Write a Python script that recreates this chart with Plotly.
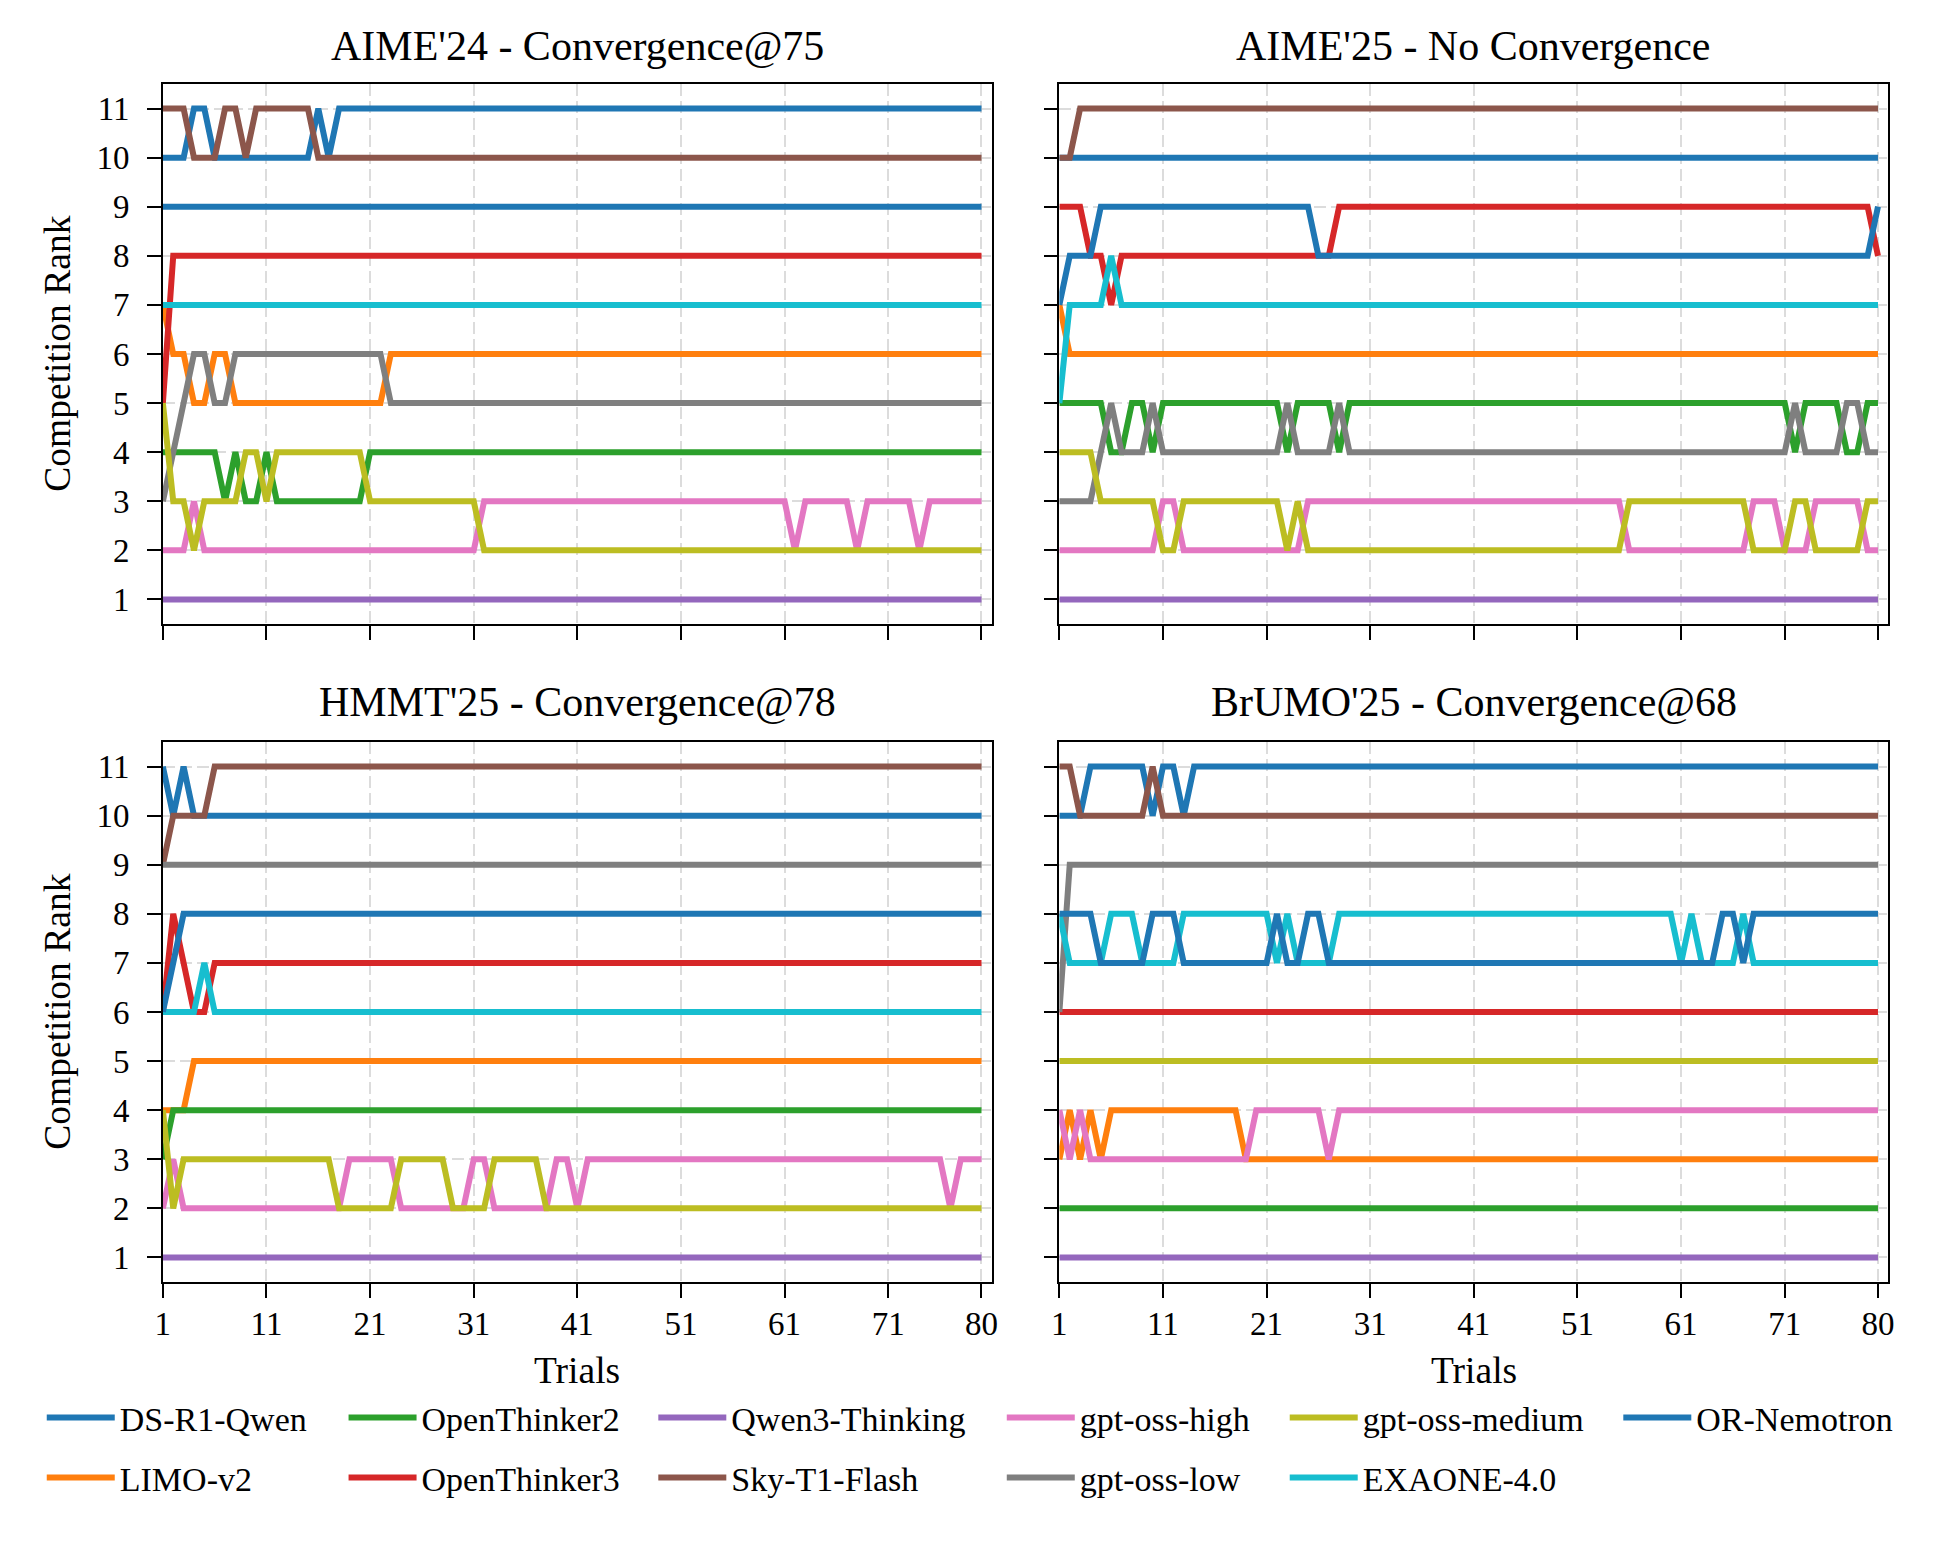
import plotly.graph_objects as go

W, H = 1941, 1541
FONT = "Liberation Serif, Times New Roman, serif"

TRIALS = list(range(1, 81))
X_TICKS = [1, 11, 21, 31, 41, 51, 61, 71, 80]
Y_TICKS = [1, 2, 3, 4, 5, 6, 7, 8, 9, 10, 11]

MODELS = ["DS-R1-Qwen", "LIMO-v2", "OpenThinker2", "OpenThinker3", "Qwen3-Thinking",
          "Sky-T1-Flash", "gpt-oss-high", "gpt-oss-low", "gpt-oss-medium", "EXAONE-4.0",
          "OR-Nemotron"]
COLORS = ["#1f77b4", "#ff7f0e", "#2ca02c", "#d62728", "#9467bd", "#8c564b",
          "#e377c2", "#7f7f7f", "#bcbd22", "#17becf", "#1f77b4"]
PANEL_TITLES = ["AIME'24 - Convergence@75", "AIME'25 - No Convergence",
                "HMMT'25 - Convergence@78", "BrUMO'25 - Convergence@68"]

# ---------------- AIME'24 ----------------
A24_DS = [10,10,10,11,11,10,10,10,10,10, 10,10,10,10,10,11,10,11,11,11,
          11,11,11,11,11,11,11,11,11,11, 11,11,11,11,11,11,11,11,11,11,
          11,11,11,11,11,11,11,11,11,11, 11,11,11,11,11,11,11,11,11,11,
          11,11,11,11,11,11,11,11,11,11, 11,11,11,11,11,11,11,11,11,11]
A24_LIMO = [7,6,6,5,5,6,6,5,5,5, 5,5,5,5,5,5,5,5,5,5,
            5,5,6,6,6,6,6,6,6,6, 6,6,6,6,6,6,6,6,6,6,
            6,6,6,6,6,6,6,6,6,6, 6,6,6,6,6,6,6,6,6,6,
            6,6,6,6,6,6,6,6,6,6, 6,6,6,6,6,6,6,6,6,6]
A24_OT2 = [4,4,4,4,4,4,3,4,3,3, 4,3,3,3,3,3,3,3,3,3,
           4,4,4,4,4,4,4,4,4,4, 4,4,4,4,4,4,4,4,4,4,
           4,4,4,4,4,4,4,4,4,4, 4,4,4,4,4,4,4,4,4,4,
           4,4,4,4,4,4,4,4,4,4, 4,4,4,4,4,4,4,4,4,4]
A24_OT3 = [5,8,8,8,8,8,8,8,8,8, 8,8,8,8,8,8,8,8,8,8,
           8,8,8,8,8,8,8,8,8,8, 8,8,8,8,8,8,8,8,8,8,
           8,8,8,8,8,8,8,8,8,8, 8,8,8,8,8,8,8,8,8,8,
           8,8,8,8,8,8,8,8,8,8, 8,8,8,8,8,8,8,8,8,8]
A24_QWEN = [1,1,1,1,1,1,1,1,1,1, 1,1,1,1,1,1,1,1,1,1,
            1,1,1,1,1,1,1,1,1,1, 1,1,1,1,1,1,1,1,1,1,
            1,1,1,1,1,1,1,1,1,1, 1,1,1,1,1,1,1,1,1,1,
            1,1,1,1,1,1,1,1,1,1, 1,1,1,1,1,1,1,1,1,1]
A24_SKY = [11,11,11,10,10,10,11,11,10,11, 11,11,11,11,11,10,10,10,10,10,
           10,10,10,10,10,10,10,10,10,10, 10,10,10,10,10,10,10,10,10,10,
           10,10,10,10,10,10,10,10,10,10, 10,10,10,10,10,10,10,10,10,10,
           10,10,10,10,10,10,10,10,10,10, 10,10,10,10,10,10,10,10,10,10]
A24_HIGH = [2,2,2,3,2,2,2,2,2,2, 2,2,2,2,2,2,2,2,2,2,
            2,2,2,2,2,2,2,2,2,2, 2,3,3,3,3,3,3,3,3,3,
            3,3,3,3,3,3,3,3,3,3, 3,3,3,3,3,3,3,3,3,3,
            3,2,3,3,3,3,3,2,3,3, 3,3,3,2,3,3,3,3,3,3]
A24_LOW = [3,4,5,6,6,5,5,6,6,6, 6,6,6,6,6,6,6,6,6,6,
           6,6,5,5,5,5,5,5,5,5, 5,5,5,5,5,5,5,5,5,5,
           5,5,5,5,5,5,5,5,5,5, 5,5,5,5,5,5,5,5,5,5,
           5,5,5,5,5,5,5,5,5,5, 5,5,5,5,5,5,5,5,5,5]
A24_MED = [5,3,3,2,3,3,3,3,4,4, 3,4,4,4,4,4,4,4,4,4,
           3,3,3,3,3,3,3,3,3,3, 3,2,2,2,2,2,2,2,2,2,
           2,2,2,2,2,2,2,2,2,2, 2,2,2,2,2,2,2,2,2,2,
           2,2,2,2,2,2,2,2,2,2, 2,2,2,2,2,2,2,2,2,2]
A24_EXA = [7,7,7,7,7,7,7,7,7,7, 7,7,7,7,7,7,7,7,7,7,
           7,7,7,7,7,7,7,7,7,7, 7,7,7,7,7,7,7,7,7,7,
           7,7,7,7,7,7,7,7,7,7, 7,7,7,7,7,7,7,7,7,7,
           7,7,7,7,7,7,7,7,7,7, 7,7,7,7,7,7,7,7,7,7]
A24_ORN = [9,9,9,9,9,9,9,9,9,9, 9,9,9,9,9,9,9,9,9,9,
           9,9,9,9,9,9,9,9,9,9, 9,9,9,9,9,9,9,9,9,9,
           9,9,9,9,9,9,9,9,9,9, 9,9,9,9,9,9,9,9,9,9,
           9,9,9,9,9,9,9,9,9,9, 9,9,9,9,9,9,9,9,9,9]

# ---------------- AIME'25 ----------------
A25_DS = [10,10,10,10,10,10,10,10,10,10, 10,10,10,10,10,10,10,10,10,10,
          10,10,10,10,10,10,10,10,10,10, 10,10,10,10,10,10,10,10,10,10,
          10,10,10,10,10,10,10,10,10,10, 10,10,10,10,10,10,10,10,10,10,
          10,10,10,10,10,10,10,10,10,10, 10,10,10,10,10,10,10,10,10,10]
A25_LIMO = [7,6,6,6,6,6,6,6,6,6, 6,6,6,6,6,6,6,6,6,6,
            6,6,6,6,6,6,6,6,6,6, 6,6,6,6,6,6,6,6,6,6,
            6,6,6,6,6,6,6,6,6,6, 6,6,6,6,6,6,6,6,6,6,
            6,6,6,6,6,6,6,6,6,6, 6,6,6,6,6,6,6,6,6,6]
A25_OT2 = [5,5,5,5,5,4,4,5,5,4, 5,5,5,5,5,5,5,5,5,5,
           5,5,4,5,5,5,5,4,5,5, 5,5,5,5,5,5,5,5,5,5,
           5,5,5,5,5,5,5,5,5,5, 5,5,5,5,5,5,5,5,5,5,
           5,5,5,5,5,5,5,5,5,5, 5,4,5,5,5,5,4,4,5,5]
A25_OT3 = [9,9,9,8,8,7,8,8,8,8, 8,8,8,8,8,8,8,8,8,8,
           8,8,8,8,8,8,8,9,9,9, 9,9,9,9,9,9,9,9,9,9,
           9,9,9,9,9,9,9,9,9,9, 9,9,9,9,9,9,9,9,9,9,
           9,9,9,9,9,9,9,9,9,9, 9,9,9,9,9,9,9,9,9,8]
A25_QWEN = [1,1,1,1,1,1,1,1,1,1, 1,1,1,1,1,1,1,1,1,1,
            1,1,1,1,1,1,1,1,1,1, 1,1,1,1,1,1,1,1,1,1,
            1,1,1,1,1,1,1,1,1,1, 1,1,1,1,1,1,1,1,1,1,
            1,1,1,1,1,1,1,1,1,1, 1,1,1,1,1,1,1,1,1,1]
A25_SKY = [10,10,11,11,11,11,11,11,11,11, 11,11,11,11,11,11,11,11,11,11,
           11,11,11,11,11,11,11,11,11,11, 11,11,11,11,11,11,11,11,11,11,
           11,11,11,11,11,11,11,11,11,11, 11,11,11,11,11,11,11,11,11,11,
           11,11,11,11,11,11,11,11,11,11, 11,11,11,11,11,11,11,11,11,11]
A25_HIGH = [2,2,2,2,2,2,2,2,2,2, 3,3,2,2,2,2,2,2,2,2,
            2,2,2,2,3,3,3,3,3,3, 3,3,3,3,3,3,3,3,3,3,
            3,3,3,3,3,3,3,3,3,3, 3,3,3,3,3,2,2,2,2,2,
            2,2,2,2,2,2,2,3,3,3, 2,2,2,3,3,3,3,3,2,2]
A25_LOW = [3,3,3,3,4,5,4,4,4,5, 4,4,4,4,4,4,4,4,4,4,
           4,4,5,4,4,4,4,5,4,4, 4,4,4,4,4,4,4,4,4,4,
           4,4,4,4,4,4,4,4,4,4, 4,4,4,4,4,4,4,4,4,4,
           4,4,4,4,4,4,4,4,4,4, 4,5,4,4,4,4,5,5,4,4]
A25_MED = [4,4,4,4,3,3,3,3,3,3, 2,2,3,3,3,3,3,3,3,3,
           3,3,2,3,2,2,2,2,2,2, 2,2,2,2,2,2,2,2,2,2,
           2,2,2,2,2,2,2,2,2,2, 2,2,2,2,2,3,3,3,3,3,
           3,3,3,3,3,3,3,2,2,2, 2,3,3,2,2,2,2,2,3,3]
A25_EXA = [5,7,7,7,7,8,7,7,7,7, 7,7,7,7,7,7,7,7,7,7,
           7,7,7,7,7,7,7,7,7,7, 7,7,7,7,7,7,7,7,7,7,
           7,7,7,7,7,7,7,7,7,7, 7,7,7,7,7,7,7,7,7,7,
           7,7,7,7,7,7,7,7,7,7, 7,7,7,7,7,7,7,7,7,7]
A25_ORN = [7,8,8,8,9,9,9,9,9,9, 9,9,9,9,9,9,9,9,9,9,
           9,9,9,9,9,8,8,8,8,8, 8,8,8,8,8,8,8,8,8,8,
           8,8,8,8,8,8,8,8,8,8, 8,8,8,8,8,8,8,8,8,8,
           8,8,8,8,8,8,8,8,8,8, 8,8,8,8,8,8,8,8,8,9]

# ---------------- HMMT'25 ----------------
HM_DS = [11,10,11,10,10,10,10,10,10,10, 10,10,10,10,10,10,10,10,10,10,
         10,10,10,10,10,10,10,10,10,10, 10,10,10,10,10,10,10,10,10,10,
         10,10,10,10,10,10,10,10,10,10, 10,10,10,10,10,10,10,10,10,10,
         10,10,10,10,10,10,10,10,10,10, 10,10,10,10,10,10,10,10,10,10]
HM_LIMO = [4,4,4,5,5,5,5,5,5,5, 5,5,5,5,5,5,5,5,5,5,
           5,5,5,5,5,5,5,5,5,5, 5,5,5,5,5,5,5,5,5,5,
           5,5,5,5,5,5,5,5,5,5, 5,5,5,5,5,5,5,5,5,5,
           5,5,5,5,5,5,5,5,5,5, 5,5,5,5,5,5,5,5,5,5]
HM_OT2 = [3,4,4,4,4,4,4,4,4,4, 4,4,4,4,4,4,4,4,4,4,
          4,4,4,4,4,4,4,4,4,4, 4,4,4,4,4,4,4,4,4,4,
          4,4,4,4,4,4,4,4,4,4, 4,4,4,4,4,4,4,4,4,4,
          4,4,4,4,4,4,4,4,4,4, 4,4,4,4,4,4,4,4,4,4]
HM_OT3 = [6,8,7,6,6,7,7,7,7,7, 7,7,7,7,7,7,7,7,7,7,
          7,7,7,7,7,7,7,7,7,7, 7,7,7,7,7,7,7,7,7,7,
          7,7,7,7,7,7,7,7,7,7, 7,7,7,7,7,7,7,7,7,7,
          7,7,7,7,7,7,7,7,7,7, 7,7,7,7,7,7,7,7,7,7]
HM_QWEN = [1,1,1,1,1,1,1,1,1,1, 1,1,1,1,1,1,1,1,1,1,
           1,1,1,1,1,1,1,1,1,1, 1,1,1,1,1,1,1,1,1,1,
           1,1,1,1,1,1,1,1,1,1, 1,1,1,1,1,1,1,1,1,1,
           1,1,1,1,1,1,1,1,1,1, 1,1,1,1,1,1,1,1,1,1]
HM_SKY = [9,10,10,10,10,11,11,11,11,11, 11,11,11,11,11,11,11,11,11,11,
          11,11,11,11,11,11,11,11,11,11, 11,11,11,11,11,11,11,11,11,11,
          11,11,11,11,11,11,11,11,11,11, 11,11,11,11,11,11,11,11,11,11,
          11,11,11,11,11,11,11,11,11,11, 11,11,11,11,11,11,11,11,11,11]
HM_HIGH = [2,3,2,2,2,2,2,2,2,2, 2,2,2,2,2,2,2,2,3,3,
           3,3,3,2,2,2,2,2,2,2, 3,3,2,2,2,2,2,2,3,3,
           2,3,3,3,3,3,3,3,3,3, 3,3,3,3,3,3,3,3,3,3,
           3,3,3,3,3,3,3,3,3,3, 3,3,3,3,3,3,2,3,3,3]
HM_LOW = [9,9,9,9,9,9,9,9,9,9, 9,9,9,9,9,9,9,9,9,9,
          9,9,9,9,9,9,9,9,9,9, 9,9,9,9,9,9,9,9,9,9,
          9,9,9,9,9,9,9,9,9,9, 9,9,9,9,9,9,9,9,9,9,
          9,9,9,9,9,9,9,9,9,9, 9,9,9,9,9,9,9,9,9,9]
HM_MED = [4,2,3,3,3,3,3,3,3,3, 3,3,3,3,3,3,3,2,2,2,
          2,2,2,3,3,3,3,3,2,2, 2,2,3,3,3,3,3,2,2,2,
          2,2,2,2,2,2,2,2,2,2, 2,2,2,2,2,2,2,2,2,2,
          2,2,2,2,2,2,2,2,2,2, 2,2,2,2,2,2,2,2,2,2]
HM_EXA = [6,6,6,6,7,6,6,6,6,6, 6,6,6,6,6,6,6,6,6,6,
          6,6,6,6,6,6,6,6,6,6, 6,6,6,6,6,6,6,6,6,6,
          6,6,6,6,6,6,6,6,6,6, 6,6,6,6,6,6,6,6,6,6,
          6,6,6,6,6,6,6,6,6,6, 6,6,6,6,6,6,6,6,6,6]
HM_ORN = [6,7,8,8,8,8,8,8,8,8, 8,8,8,8,8,8,8,8,8,8,
          8,8,8,8,8,8,8,8,8,8, 8,8,8,8,8,8,8,8,8,8,
          8,8,8,8,8,8,8,8,8,8, 8,8,8,8,8,8,8,8,8,8,
          8,8,8,8,8,8,8,8,8,8, 8,8,8,8,8,8,8,8,8,8]

# ---------------- BrUMO'25 ----------------
BR_DS = [10,10,10,11,11,11,11,11,11,10, 11,11,10,11,11,11,11,11,11,11,
         11,11,11,11,11,11,11,11,11,11, 11,11,11,11,11,11,11,11,11,11,
         11,11,11,11,11,11,11,11,11,11, 11,11,11,11,11,11,11,11,11,11,
         11,11,11,11,11,11,11,11,11,11, 11,11,11,11,11,11,11,11,11,11]
BR_LIMO = [3,4,3,4,3,4,4,4,4,4, 4,4,4,4,4,4,4,4,3,3,
           3,3,3,3,3,3,3,3,3,3, 3,3,3,3,3,3,3,3,3,3,
           3,3,3,3,3,3,3,3,3,3, 3,3,3,3,3,3,3,3,3,3,
           3,3,3,3,3,3,3,3,3,3, 3,3,3,3,3,3,3,3,3,3]
BR_OT2 = [2,2,2,2,2,2,2,2,2,2, 2,2,2,2,2,2,2,2,2,2,
          2,2,2,2,2,2,2,2,2,2, 2,2,2,2,2,2,2,2,2,2,
          2,2,2,2,2,2,2,2,2,2, 2,2,2,2,2,2,2,2,2,2,
          2,2,2,2,2,2,2,2,2,2, 2,2,2,2,2,2,2,2,2,2]
BR_OT3 = [6,6,6,6,6,6,6,6,6,6, 6,6,6,6,6,6,6,6,6,6,
          6,6,6,6,6,6,6,6,6,6, 6,6,6,6,6,6,6,6,6,6,
          6,6,6,6,6,6,6,6,6,6, 6,6,6,6,6,6,6,6,6,6,
          6,6,6,6,6,6,6,6,6,6, 6,6,6,6,6,6,6,6,6,6]
BR_QWEN = [1,1,1,1,1,1,1,1,1,1, 1,1,1,1,1,1,1,1,1,1,
           1,1,1,1,1,1,1,1,1,1, 1,1,1,1,1,1,1,1,1,1,
           1,1,1,1,1,1,1,1,1,1, 1,1,1,1,1,1,1,1,1,1,
           1,1,1,1,1,1,1,1,1,1, 1,1,1,1,1,1,1,1,1,1]
BR_SKY = [11,11,10,10,10,10,10,10,10,11, 10,10,10,10,10,10,10,10,10,10,
          10,10,10,10,10,10,10,10,10,10, 10,10,10,10,10,10,10,10,10,10,
          10,10,10,10,10,10,10,10,10,10, 10,10,10,10,10,10,10,10,10,10,
          10,10,10,10,10,10,10,10,10,10, 10,10,10,10,10,10,10,10,10,10]
BR_HIGH = [4,3,4,3,3,3,3,3,3,3, 3,3,3,3,3,3,3,3,3,4,
           4,4,4,4,4,4,3,4,4,4, 4,4,4,4,4,4,4,4,4,4,
           4,4,4,4,4,4,4,4,4,4, 4,4,4,4,4,4,4,4,4,4,
           4,4,4,4,4,4,4,4,4,4, 4,4,4,4,4,4,4,4,4,4]
BR_LOW = [6,9,9,9,9,9,9,9,9,9, 9,9,9,9,9,9,9,9,9,9,
          9,9,9,9,9,9,9,9,9,9, 9,9,9,9,9,9,9,9,9,9,
          9,9,9,9,9,9,9,9,9,9, 9,9,9,9,9,9,9,9,9,9,
          9,9,9,9,9,9,9,9,9,9, 9,9,9,9,9,9,9,9,9,9]
BR_MED = [5,5,5,5,5,5,5,5,5,5, 5,5,5,5,5,5,5,5,5,5,
          5,5,5,5,5,5,5,5,5,5, 5,5,5,5,5,5,5,5,5,5,
          5,5,5,5,5,5,5,5,5,5, 5,5,5,5,5,5,5,5,5,5,
          5,5,5,5,5,5,5,5,5,5, 5,5,5,5,5,5,5,5,5,5]
BR_EXA = [8,7,7,7,7,8,8,8,7,7, 7,7,8,8,8,8,8,8,8,8,
          8,7,8,7,7,7,7,8,8,8, 8,8,8,8,8,8,8,8,8,8,
          8,8,8,8,8,8,8,8,8,8, 8,8,8,8,8,8,8,8,8,8,
          7,8,7,7,7,7,8,7,7,7, 7,7,7,7,7,7,7,7,7,7]
BR_ORN = [8,8,8,8,7,7,7,7,7,8, 8,8,7,7,7,7,7,7,7,7,
          7,8,7,7,8,8,7,7,7,7, 7,7,7,7,7,7,7,7,7,7,
          7,7,7,7,7,7,7,7,7,7, 7,7,7,7,7,7,7,7,7,7,
          7,7,7,7,8,8,7,8,8,8, 8,8,8,8,8,8,8,8,8,8]

PANELS = [
    [A24_DS, A24_LIMO, A24_OT2, A24_OT3, A24_QWEN, A24_SKY, A24_HIGH, A24_LOW, A24_MED, A24_EXA, A24_ORN],
    [A25_DS, A25_LIMO, A25_OT2, A25_OT3, A25_QWEN, A25_SKY, A25_HIGH, A25_LOW, A25_MED, A25_EXA, A25_ORN],
    [HM_DS, HM_LIMO, HM_OT2, HM_OT3, HM_QWEN, HM_SKY, HM_HIGH, HM_LOW, HM_MED, HM_EXA, HM_ORN],
    [BR_DS, BR_LIMO, BR_OT2, BR_OT3, BR_QWEN, BR_SKY, BR_HIGH, BR_LOW, BR_MED, BR_EXA, BR_ORN],
]

# ---- layout geometry (pixels) ----
COL_X = [(156, 991), (1059, 1894)]
ROW_Y = [(84, 624), (742, 1282)]

def px_x(p):
    return p / W

def px_y(p):
    return 1 - p / H

fig = go.Figure()

LEGEND_LINE_START = [50, 354, 666, 1017, 1302, 1638]
LEGEND_ROWS = [1418, 1478]
LEGEND_POS = [(0, 0), (0, 1), (1, 0), (1, 1), (2, 0), (2, 1), (3, 0), (3, 1), (4, 0), (4, 1), (5, 0)]
ITEM_W = 68

def legend_name(m):
    return "legend" if m == 0 else "legend%d" % (m + 1)

for p, series in enumerate(PANELS):
    ax = "" if p == 0 else str(p + 1)
    for m, vals in enumerate(series):
        fig.add_trace(go.Scatter(
            x=TRIALS, y=vals, mode="lines", name=MODELS[m],
            line=dict(color=COLORS[m], width=6),
            xaxis="x" + ax, yaxis="y" + ax,
            showlegend=(p == 0), legend=legend_name(m),
            hoverinfo="skip",
        ))

layout = dict(
    width=W, height=H, autosize=False,
    margin=dict(l=0, r=0, t=0, b=0),
    paper_bgcolor="white", plot_bgcolor="white",
    font=dict(family=FONT, color="black", size=33),
)

axis_common = dict(
    ticks="outside", ticklen=14, tickwidth=1.6, tickcolor="black",
    showline=True, linecolor="black", linewidth=1.6, mirror=True,
    showgrid=True, gridcolor="#dcdcdc", gridwidth=1.6, griddash="12px,5px",
    zeroline=False, tickfont=dict(family=FONT, size=33, color="black"),
)

for p in range(4):
    r, c = divmod(p, 2)
    key = "" if p == 0 else str(p + 1)
    x0, x1 = COL_X[c]
    y0, y1 = ROW_Y[r]
    layout["xaxis" + key] = dict(
        axis_common, domain=[px_x(x0), px_x(x1)], range=[1, 81],
        tickmode="array", tickvals=X_TICKS, ticktext=[str(v) for v in X_TICKS],
        showticklabels=(r == 1), anchor="y" + key, ticklabelstandoff=-2,
    )
    layout["yaxis" + key] = dict(
        axis_common, domain=[px_y(y1), px_y(y0)], range=[0.5, 11.5],
        tickmode="array", tickvals=Y_TICKS, ticktext=[str(v) for v in Y_TICKS],
        showticklabels=(c == 0), anchor="x" + key, ticklabelstandoff=11,
    )

for m in range(len(MODELS)):
    col, row = LEGEND_POS[m]
    layout[legend_name(m)] = dict(
        x=px_x(LEGEND_LINE_START[col] - 16), xanchor="left",
        y=px_y(LEGEND_ROWS[row]), yanchor="middle",
        bgcolor="rgba(0,0,0,0)", borderwidth=0,
        font=dict(family=FONT, size=34, color="black"),
        orientation="v", itemwidth=ITEM_W,
    )

annotations = []
for p in range(4):
    r, c = divmod(p, 2)
    x0, x1 = COL_X[c]
    ty = [46, 702][r]
    annotations.append(dict(
        text=PANEL_TITLES[p], x=px_x((x0 + x1) / 2), y=px_y(ty),
        xref="paper", yref="paper", xanchor="center", yanchor="middle",
        showarrow=False, font=dict(family=FONT, size=42, color="black"),
    ))
for r in range(2):
    y0, y1 = ROW_Y[r]
    annotations.append(dict(
        text="Competition Rank", x=px_x(49), y=px_y((y0 + y1) / 2),
        xref="paper", yref="paper", xanchor="center", yanchor="middle",
        textangle=-90, showarrow=False,
        font=dict(family=FONT, size=37.5, color="black"),
    ))
for c in range(2):
    x0, x1 = COL_X[c]
    annotations.append(dict(
        text="Trials", x=px_x((x0 + x1) / 2), y=px_y(1370),
        xref="paper", yref="paper", xanchor="center", yanchor="middle",
        showarrow=False, font=dict(family=FONT, size=37.5, color="black"),
    ))
layout["annotations"] = annotations

fig.update_layout(**layout)

fig.write_html("out.html", config={"displayModeBar": False},
               post_script="document.body.style.margin='0px';")
